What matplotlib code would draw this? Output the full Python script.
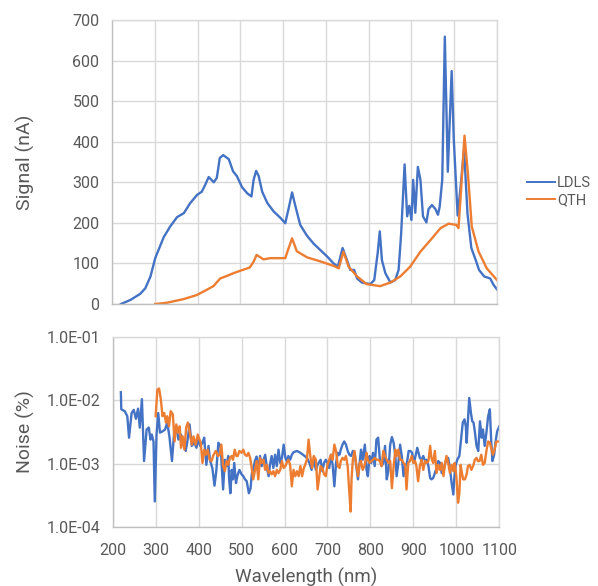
import matplotlib
matplotlib.use("Agg")
import matplotlib.pyplot as plt
import numpy as np
from matplotlib.ticker import FuncFormatter, FixedLocator, NullLocator

# ---------------- data ----------------
series_names = ["LDLS", "QTH"]

ldls_wl = [221, 243, 266, 278, 290, 301, 321, 336, 352, 368,
           383, 399, 410, 418, 426, 438, 445, 452, 460, 473,
           483, 492, 504, 516, 526, 531, 537, 543, 551, 563,
           578, 594, 605, 613, 621, 629, 640, 656, 672, 687,
           703, 718, 728, 739, 749, 757, 766, 773, 784, 804,
           813, 821, 826, 831, 839, 851, 862, 870, 876, 884,
           890, 895, 900, 904, 909, 915, 921, 927, 935, 940,
           948, 956, 962, 966, 972, 978, 985, 994, 999, 1008,
           1015, 1023, 1031, 1040, 1050, 1058, 1070, 1084, 1092, 1100]
ldls_signal = [0, 10, 25, 39, 68, 113, 165, 191, 214, 224,
               249, 269, 277, 294, 313, 300, 311, 360, 367, 357,
               327, 315, 288, 273, 265, 306, 328, 315, 277, 249,
               228, 212, 199, 236, 275, 240, 195, 168, 148, 133,
               117, 100, 92, 138, 109, 84, 84, 63, 53, 49,
               59, 125, 179, 108, 76, 53, 59, 84, 175, 344,
               216, 242, 207, 306, 225, 338, 306, 216, 201, 234,
               244, 234, 220, 240, 306, 659, 326, 574, 405, 218,
               290, 381, 223, 138, 109, 84, 68, 63, 47, 36]

qth_wl = [301, 328, 367, 398, 418, 437, 453, 468, 484, 500,
          522, 531, 538, 554, 570, 605, 613, 621, 632, 656,
          687, 718, 730, 741, 753, 773, 795, 827, 851, 874,
          897, 921, 944, 968, 987, 1005, 1010, 1016, 1024, 1032,
          1041, 1057, 1076, 1100]
qth_signal = [0, 3, 12, 22, 33, 44, 63, 69, 76, 82,
              90, 104, 121, 110, 113, 113, 138, 162, 130, 115,
              105, 94, 88, 129, 92, 68, 49, 44, 53, 68,
              92, 129, 157, 187, 198, 195, 187, 282, 415, 322,
              191, 129, 88, 59]

# noise, given as decimal exponent (noise % = 10**exp)
ldls_noise_wl = [219, 220, 228, 234, 238, 244, 249, 254, 259, 263,
                 268, 273, 279, 284, 288, 291, 295, 298, 302, 306,
                 310, 316, 322, 327, 332, 338, 343, 348, 353, 359,
                 363, 370, 374, 379, 384, 390, 395, 399, 404, 409,
                 413, 418, 423, 427, 432, 437, 441, 446, 451, 453,
                 457, 461, 465, 469, 471, 474, 477, 480, 483, 487,
                 490, 495, 500, 504, 508, 512, 517, 521, 524, 527,
                 531, 535, 539, 543, 547, 551, 555, 559, 563, 566,
                 570, 574, 578, 582, 586, 590, 594, 598, 602, 605,
                 609, 613, 617, 621, 629, 637, 645, 652, 658, 663,
                 668, 673, 677, 682, 684, 688, 692, 696, 700, 704,
                 708, 712, 716, 720, 724, 728, 731, 735, 739, 743,
                 747, 751, 755, 759, 763, 767, 771, 775, 778, 782,
                 787, 791, 794, 798, 802, 806, 810, 814, 818, 822,
                 826, 830, 834, 838, 842, 846, 850, 854, 858, 861,
                 865, 869, 873, 877, 881, 885, 889, 893, 897, 901,
                 905, 909, 915, 919, 923, 927, 931, 935, 939, 942,
                 946, 950, 954, 958, 962, 966, 970, 974, 977, 981,
                 985, 989, 993, 995, 998, 1002, 1007, 1011, 1015, 1019,
                 1022, 1024, 1027, 1030, 1034, 1037, 1040, 1043, 1047, 1051,
                 1055, 1059, 1062, 1066, 1070, 1074, 1078, 1081, 1084, 1088,
                 1091, 1095, 1100]
ldls_noise_exp = [-1.87, -2.14, -2.17, -2.25, -2.59, -2.20, -2.15, -2.29, -2.13, -2.43,
                  -1.98, -2.96, -2.46, -2.43, -2.62, -2.54, -2.65, -3.60, -2.54, -2.20,
                  -2.51, -2.49, -2.46, -2.35, -2.57, -2.96, -2.51, -2.41, -2.62, -2.54,
                  -2.67, -2.80, -2.64, -2.38, -2.72, -2.67, -2.75, -2.62, -2.72, -2.67,
                  -2.59, -3.02, -2.72, -2.96, -3.07, -3.35, -3.13, -2.67, -2.72, -2.94,
                  -3.41, -2.94, -3.04, -2.88, -3.25, -3.47, -3.10, -3.25, -2.99, -3.31,
                  -3.20, -3.10, -3.17, -3.20, -3.25, -3.28, -3.47, -3.39, -3.15, -3.10,
                  -2.96, -2.89, -3.15, -2.88, -3.04, -2.94, -2.86, -3.07, -3.20, -3.02,
                  -2.88, -3.07, -2.86, -3.04, -2.78, -2.99, -2.91, -2.70, -2.91, -2.96,
                  -2.88, -2.94, -2.86, -2.82, -2.80, -2.83, -2.87, -2.91, -2.99, -3.10,
                  -2.94, -3.10, -3.02, -2.96, -2.94, -3.12, -2.99, -2.94, -2.99, -3.07,
                  -2.86, -3.02, -3.36, -2.99, -2.83, -2.86, -2.78, -2.70, -2.65, -2.70,
                  -2.80, -2.86, -2.88, -2.80, -2.83, -3.04, -3.25, -2.99, -2.78, -2.94,
                  -2.70, -3.10, -3.20, -2.88, -2.99, -2.83, -3.04, -2.62, -2.59, -2.94,
                  -3.04, -2.99, -2.72, -3.25, -3.10, -2.70, -2.58, -2.67, -2.88, -3.20,
                  -2.99, -2.70, -2.88, -3.20, -3.04, -2.99, -2.80, -2.80, -2.83, -2.99,
                  -2.88, -2.75, -2.91, -2.94, -2.88, -2.96, -2.94, -3.04, -3.23, -3.25,
                  -3.23, -3.15, -3.07, -2.96, -2.99, -3.15, -3.12, -2.99, -2.94, -2.91,
                  -3.07, -3.31, -3.49, -3.25, -3.04, -2.94, -2.88, -2.62, -2.35, -2.30,
                  -2.41, -2.67, -2.30, -1.96, -2.20, -2.33, -2.35, -2.49, -2.72, -2.80,
                  -2.33, -2.59, -2.46, -2.72, -2.51, -2.25, -2.14, -2.62, -2.96, -2.86,
                  -2.67, -2.49, -2.41]

qth_noise_wl = [300, 304, 308, 312, 316, 320, 324, 327, 331, 335,
                340, 344, 348, 352, 356, 359, 363, 367, 371, 375,
                379, 384, 388, 393, 398, 402, 405, 409, 413, 417,
                421, 426, 430, 435, 440, 445, 449, 453, 457, 461,
                465, 469, 473, 477, 480, 484, 488, 491, 495, 500,
                504, 508, 512, 516, 520, 523, 527, 531, 535, 539,
                543, 547, 551, 555, 559, 563, 566, 570, 574, 578,
                582, 586, 590, 594, 598, 602, 605, 609, 613, 617,
                621, 625, 629, 633, 637, 641, 645, 648, 652, 656,
                660, 664, 668, 673, 677, 682, 684, 688, 692, 696,
                700, 704, 708, 712, 716, 720, 724, 728, 731, 735,
                739, 743, 747, 751, 754, 756, 759, 763, 767, 771,
                775, 778, 782, 787, 791, 794, 798, 802, 806, 810,
                814, 818, 822, 826, 830, 834, 838, 842, 846, 850,
                854, 858, 861, 865, 869, 873, 877, 881, 884, 888,
                892, 896, 900, 904, 907, 911, 915, 919, 923, 927,
                931, 935, 939, 942, 946, 950, 954, 958, 962, 966,
                970, 974, 977, 981, 985, 989, 993, 996, 1000, 1004,
                1007, 1010, 1013, 1016, 1020, 1024, 1027, 1031, 1035, 1039,
                1043, 1047, 1050, 1054, 1058, 1062, 1066, 1070, 1074, 1078,
                1081, 1085, 1089, 1093, 1100]
qth_noise_exp = [-2.25, -1.83, -1.81, -1.98, -2.25, -2.20, -2.35, -2.25, -2.41, -2.17,
                 -2.22, -2.65, -2.38, -2.51, -2.41, -2.75, -2.57, -2.78, -2.43, -2.35,
                 -2.49, -2.70, -2.57, -2.70, -2.54, -2.62, -2.67, -2.99, -2.78, -2.86,
                 -2.78, -2.94, -2.96, -2.86, -2.80, -2.88, -2.86, -2.70, -3.04, -3.12,
                 -2.96, -3.02, -2.91, -2.88, -2.94, -2.78, -2.88, -2.88, -2.80, -2.83,
                 -2.78, -2.86, -2.88, -2.83, -2.91, -3.04, -3.25, -3.12, -2.96, -3.25,
                 -2.91, -2.99, -2.94, -3.10, -3.02, -3.15, -3.12, -3.17, -3.12, -3.20,
                 -3.10, -3.15, -3.10, -2.96, -3.07, -3.04, -2.99, -2.94, -3.02, -3.36,
                 -3.10, -3.20, -3.12, -3.20, -3.04, -3.20, -3.07, -3.02, -2.94, -2.62,
                 -2.88, -3.07, -2.88, -2.94, -3.41, -3.15, -3.04, -3.07, -3.17, -3.20,
                 -3.02, -2.94, -2.86, -2.94, -2.70, -2.80, -3.04, -3.07, -2.96, -2.91,
                 -2.94, -2.88, -3.04, -3.47, -3.76, -3.25, -2.94, -2.80, -3.02, -3.20,
                 -2.99, -2.96, -3.10, -3.02, -2.83, -2.94, -2.99, -2.96, -2.94, -2.91,
                 -2.94, -2.94, -2.96, -3.04, -2.80, -2.88, -2.94, -2.99, -2.96, -3.39,
                 -3.04, -2.78, -2.88, -2.78, -2.94, -2.94, -2.99, -3.02, -3.41, -2.99,
                 -2.96, -2.88, -2.99, -2.96, -3.04, -3.28, -3.04, -2.94, -3.10, -2.96,
                 -2.99, -2.96, -2.72, -2.91, -2.99, -2.80, -3.15, -3.02, -3.10, -2.99,
                 -3.20, -2.99, -2.88, -2.99, -3.15, -3.02, -3.12, -2.99, -3.20, -3.62,
                 -3.47, -3.02, -3.15, -3.25, -3.25, -3.17, -3.04, -3.02, -3.10, -3.04,
                 -2.94, -2.91, -2.96, -2.96, -2.86, -3.02, -2.99, -2.80, -2.65, -2.67,
                 -2.75, -2.86, -2.78, -2.65, -2.65]

x_ticks = [200, 300, 400, 500, 600, 700, 800, 900, 1000, 1100]
signal_ticks = [0, 100, 200, 300, 400, 500, 600, 700]
noise_ticks = [1e-4, 1e-3, 1e-2, 1e-1]

# ---------------- style ----------------
BLUE = "#4472C4"
ORANGE = "#ED7D31"
GRID = "#D9D9D9"
TEXT = "#595959"
FONT = ["Roboto", "DejaVu Sans"]
plt.rcParams["font.family"] = FONT

W, H = 598, 586
fig = plt.figure(figsize=(W / 100, H / 100), dpi=100)

def fx(px):
    return px / W

def fy(py):
    return 1 - py / H

ax1 = fig.add_axes([fx(112), fy(304), fx(497 - 112), (304 - 20) / H])
ax2 = fig.add_axes([fx(112.7), fy(526.7), fx(499.3 - 112.7), (526.7 - 337.3) / H])

LW = 1.7
ax1.plot(ldls_wl, ldls_signal, color=BLUE, lw=LW, label=series_names[0],
         solid_joinstyle="round")
ax1.plot(qth_wl, qth_signal, color=ORANGE, lw=LW, label=series_names[1],
         solid_joinstyle="round")

ax2.plot(ldls_noise_wl, 10 ** np.array(ldls_noise_exp), color=BLUE, lw=LW,
         solid_joinstyle="round")
ax2.plot(qth_noise_wl, 10 ** np.array(qth_noise_exp), color=ORANGE, lw=LW,
         solid_joinstyle="round")

for ax in (ax1, ax2):
    ax.set_xlim(200, 1100)
    ax.set_xticks(x_ticks)
    ax.grid(True, color=GRID, lw=1.0)
    ax.set_axisbelow(True)
    for s in ax.spines.values():
        s.set_color(GRID)
        s.set_linewidth(1.0)
    ax.spines["bottom"].set_color("#BFBFBF")
    ax.spines["left"].set_color("#BFBFBF")
    ax.tick_params(length=0, colors=TEXT, labelsize=11.5, pad=9)

ax1.set_ylim(0, 700)
ax1.set_yticks(signal_ticks)
ax1.tick_params(axis="x", labelbottom=False)
ax1.set_ylabel("Signal (nA)", color=TEXT, fontsize=14)

ax2.set_yscale("log")
ax2.set_ylim(1e-4, 1e-1)
ax2.yaxis.set_major_locator(FixedLocator(noise_ticks))
ax2.yaxis.set_minor_locator(NullLocator())
ax2.yaxis.set_major_formatter(FuncFormatter(lambda v, p: f"{v:.1E}"))
ax2.set_ylabel("Noise (%)", color=TEXT, fontsize=14)
ax2.set_xlabel("Wavelength (nm)", color=TEXT, fontsize=13.5, labelpad=7)
ax2.tick_params(axis="x", pad=12)

ax1.yaxis.set_label_coords(-0.20, 0.5)
ax2.yaxis.set_label_coords(-0.20, 0.5)

leg = fig.legend(handles=ax1.get_lines(), loc="center left",
                 bbox_to_anchor=(fx(527), fy(191.5)), frameon=False,
                 borderpad=0, borderaxespad=0,
                 fontsize=10.5, handlelength=1.9, handletextpad=0.15,
                 labelspacing=0.25)
for t in leg.get_texts():
    t.set_color(TEXT)
for l in leg.get_lines():
    l.set_linewidth(1.4)

fig.savefig("out.png", dpi=100)
